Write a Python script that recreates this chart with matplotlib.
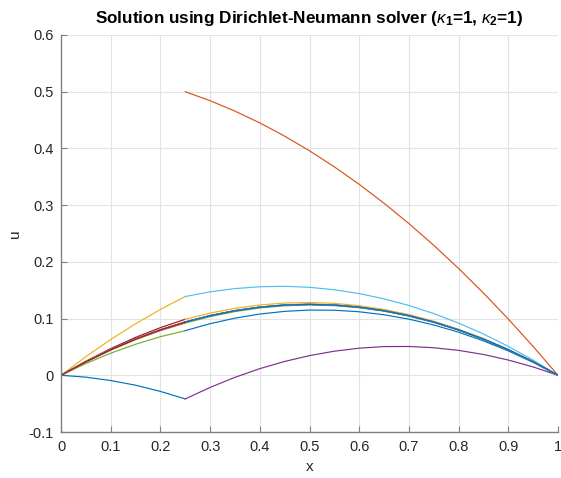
import numpy as np
import matplotlib
matplotlib.use("Agg")
import matplotlib.pyplot as plt

# grid points of the two subdomains (interface at x = 0.25)
x_left = [0, 0.05, 0.1, 0.15, 0.2, 0.25]
x_right = [0.25, 0.3, 0.35, 0.4, 0.45, 0.5, 0.55, 0.6, 0.65, 0.7,
           0.75, 0.8, 0.85, 0.9, 0.95, 1.0]

# left subdomain solutions, one per iteration
left_1 = [0, -0.0033, -0.0092, -0.0175, -0.0284, -0.0417]
left_2 = [0, 0.0328, 0.0631, 0.0908, 0.1161, 0.1389]
left_3 = [0, 0.0207, 0.0390, 0.0547, 0.0680, 0.0787]
left_4 = [0, 0.0248, 0.0470, 0.0668, 0.0840, 0.0988]
left_5 = [0, 0.0234, 0.0443, 0.0628, 0.0787, 0.0921]
left_6 = [0, 0.0239, 0.0452, 0.0641, 0.0804, 0.0943]
left_7 = [0, 0.0237, 0.0449, 0.0636, 0.0798, 0.0935]
left_8 = [0, 0.0238, 0.0450, 0.0638, 0.0800, 0.0938]
left_9 = [0, 0.0237, 0.0450, 0.0637, 0.0800, 0.0937]
left_10 = [0, 0.0238, 0.0450, 0.0638, 0.0800, 0.0938]
left_11 = [0, 0.0237, 0.0450, 0.0637, 0.0800, 0.0937]

# right subdomain solutions, one per iteration
right_1 = [0.5, 0.4842, 0.4658, 0.445, 0.4217, 0.3958, 0.3675, 0.3367,
           0.3033, 0.2675, 0.2292, 0.1883, 0.145, 0.0992, 0.0508, 0]
right_2 = [-0.0417, -0.0214, -0.0036, 0.0117, 0.0244, 0.0347, 0.0425, 0.0478,
           0.0506, 0.0508, 0.0486, 0.0439, 0.0367, 0.0269, 0.0147, 0]
right_3 = [0.1389, 0.1471, 0.1529, 0.1561, 0.1569, 0.1551, 0.1508, 0.1441,
           0.1348, 0.1231, 0.1088, 0.0920, 0.0728, 0.0510, 0.0268, 0]
right_4 = [0.0787, 0.0910, 0.1007, 0.1080, 0.1127, 0.1150, 0.1147, 0.1120,
           0.1067, 0.0990, 0.0887, 0.0760, 0.0607, 0.0430, 0.0227, 0]
right_5 = [0.0988, 0.1097, 0.1181, 0.1240, 0.1274, 0.1283, 0.1268, 0.1227,
           0.1161, 0.1070, 0.0954, 0.0813, 0.0648, 0.0457, 0.0241, 0]
right_6 = [0.0921, 0.1034, 0.1123, 0.1187, 0.1225, 0.1239, 0.1228, 0.1191,
           0.1130, 0.1043, 0.0932, 0.0796, 0.0634, 0.0448, 0.0236, 0]
right_7 = [0.0943, 0.1055, 0.1142, 0.1204, 0.1242, 0.1254, 0.1241, 0.1203,
           0.1140, 0.1052, 0.0939, 0.0801, 0.0639, 0.0451, 0.0238, 0]
right_8 = [0.0935, 0.1048, 0.1135, 0.1198, 0.1236, 0.1248, 0.1236, 0.1199,
           0.1136, 0.1049, 0.0937, 0.0799, 0.0637, 0.0450, 0.0237, 0]
right_9 = [0.0938, 0.1050, 0.1138, 0.1200, 0.1238, 0.1250, 0.1238, 0.1200,
           0.1138, 0.1050, 0.0938, 0.0800, 0.0638, 0.0450, 0.0238, 0]
right_10 = [0.0937, 0.1050, 0.1137, 0.1200, 0.1237, 0.1250, 0.1237, 0.1200,
            0.1137, 0.1050, 0.0937, 0.0800, 0.0637, 0.0450, 0.0237, 0]
right_11 = [0.0938, 0.1050, 0.1138, 0.1200, 0.1238, 0.1250, 0.1238, 0.1200,
            0.1138, 0.1050, 0.0938, 0.0800, 0.0638, 0.0450, 0.0238, 0]

lefts = [left_1, left_2, left_3, left_4, left_5, left_6, left_7, left_8,
         left_9, left_10, left_11]
rights = [right_1, right_2, right_3, right_4, right_5, right_6, right_7,
          right_8, right_9, right_10, right_11]

x_ticks = [0, 0.1, 0.2, 0.3, 0.4, 0.5, 0.6, 0.7, 0.8, 0.9, 1]
y_ticks = [-0.1, 0, 0.1, 0.2, 0.3, 0.4, 0.5, 0.6]
x_tick_labels = ["0", "0.1", "0.2", "0.3", "0.4", "0.5", "0.6", "0.7", "0.8", "0.9", "1"]
y_tick_labels = ["-0.1", "0", "0.1", "0.2", "0.3", "0.4", "0.5", "0.6"]

# matlab default line colours
matlab_colors = ["#0072BD", "#D95319", "#EDB120", "#7E2F8E", "#77AC30",
                 "#4DBEEE", "#A2142F"]

plt.rcParams["font.family"] = ["Liberation Sans", "DejaVu Sans"]
plt.rcParams["mathtext.fontset"] = "custom"
plt.rcParams["mathtext.rm"] = "Liberation Sans"
plt.rcParams["mathtext.it"] = "Liberation Sans:italic"
plt.rcParams["mathtext.bf"] = "Liberation Sans:bold"

fig = plt.figure(figsize=(5.61, 4.78), dpi=100)
ax = fig.add_axes([61 / 561, 1 - 432 / 478, 497 / 561, 397 / 478])

k = 0
for ul, ur in zip(lefts, rights):
    ax.plot(x_left, ul, color=matlab_colors[k % 7], lw=0.85)
    k += 1
    ax.plot(x_right, ur, color=matlab_colors[k % 7], lw=0.85)
    k += 1

ax.set_xlim(0, 1)
ax.set_ylim(-0.1, 0.6)
ax.set_xticks(x_ticks)
ax.set_xticklabels(x_tick_labels)
ax.set_yticks(y_ticks)
ax.set_yticklabels(y_tick_labels)

axis_gray = "#808080"
text_gray = "#262626"
ax.grid(True, color="#e3e3e3", lw=0.8)
ax.set_axisbelow(True)
for side in ["top", "right"]:
    ax.spines[side].set_visible(False)
for side in ["left", "bottom"]:
    ax.spines[side].set_color(axis_gray)
    ax.spines[side].set_linewidth(1.0)
ax.tick_params(direction="in", length=4, width=0.8, color=axis_gray,
               labelcolor=text_gray, labelsize=10.5)
ax.tick_params(axis="x", pad=6)
ax.tick_params(axis="y", pad=5)

ax.set_xlabel("x", fontsize=11, color=text_gray, labelpad=4)
ax.set_ylabel("u", fontsize=11, color=text_gray, labelpad=5)
ax.set_title(r"Solution using Dirichlet-Neumann solver ($\kappa_\mathbf{1}$=1, $\kappa_\mathbf{2}$=1)",
             fontsize=12.3, fontweight="bold", color="#000000", pad=9)

fig.savefig("out.png", dpi=100)
